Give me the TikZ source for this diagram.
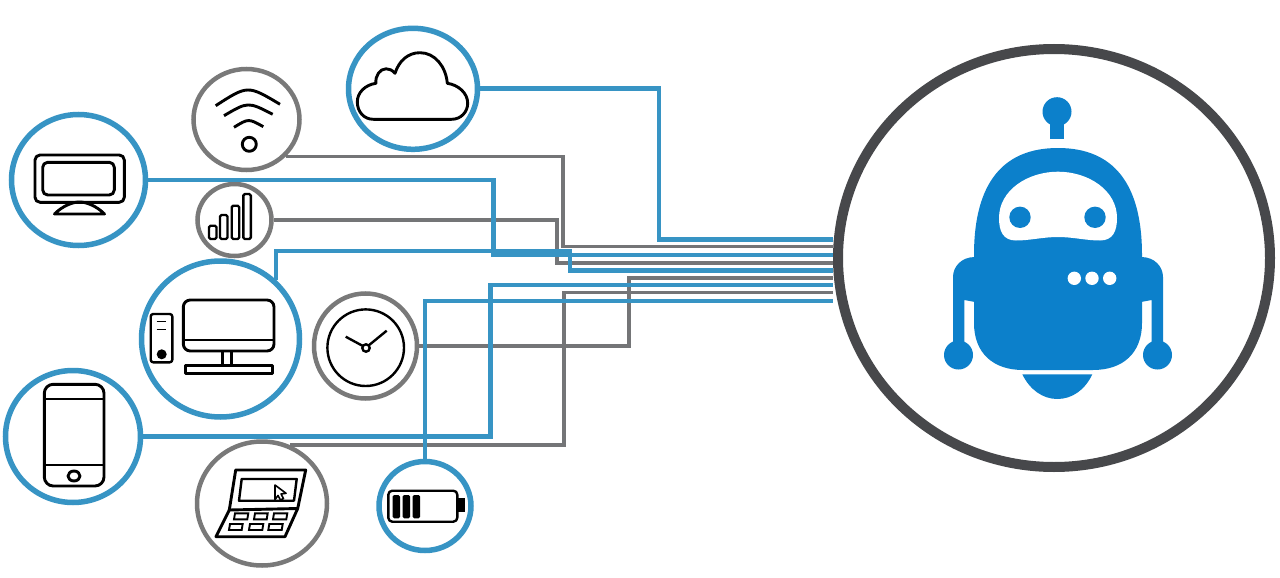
\documentclass[tikz,border=0pt]{standalone}
\usetikzlibrary{shapes.geometric}
\definecolor{wireblue}{HTML}{3794C4}
\definecolor{wiregray}{HTML}{747577}
\definecolor{robotblue}{HTML}{0C80CB}
\definecolor{robotring}{HTML}{47484B}
\begin{document}
\begin{tikzpicture}[x=1pt, y=-1pt,
	bluering/.style={shape=ellipse, draw=wireblue, line width=5.5pt, inner sep=0pt},
	grayring/.style={shape=ellipse, draw=gray!95!black, line width=4.5pt, inner sep=0pt},
	bluewire/.style={draw=wireblue, line width=4.6pt},
	graywire/.style={draw=wiregray, line width=3.6pt},
	icon/.style={black, line width=2.9pt, line join=round},
	thinicon/.style={black, line width=2.4pt, line join=round}]
	\useasboundingbox (0,0) rectangle (1280,578);
	\fill[white] (0,0) rectangle (1280,578);

	% ==================== 第一列：设备图标 ====================

	% 1. 云
	\begin{scope}[shift={(413,88.8)}]
		\node[bluering, minimum width=129pt, minimum height=121pt] (cloud) at (0,0) {};
		\draw[icon] (-39.7,30.5) -- (38.7,30.5) .. controls (48,30.5) and (54.7,23) .. (54.7,14.5)
			.. controls (54.7,4) and (45,-4) .. (34.3,-5.5) .. controls (33,-22) and (22,-36.1) .. (7,-36.1)
			.. controls (-5,-36.1) and (-14,-28) .. (-18,-15.5) .. controls (-21,-19) and (-24,-20) .. (-27,-20)
			.. controls (-33,-20) and (-38,-13) .. (-37,-5.5) .. controls (-48,-4) and (-55.7,4) .. (-55.7,13)
			.. controls (-55.7,23) and (-49,30.5) .. (-39.7,30.5) -- cycle;
	\end{scope}

	% 2. 无线网络
	\begin{scope}[shift={(246.5,119.5)}]
		\node[grayring, minimum width=106pt, minimum height=101pt] (wifi) at (0,0) {};
		\draw[icon] (-30.8,-13.8) .. controls (1.2,-34.5) .. (33.5,-15.2);
		\draw[icon] (-22.5,-3.8) .. controls (1.5,-17.9) .. (26.2,-5.2);
		\draw[icon] (-12.5,7.8) .. controls (2,-1.1) .. (16.8,7.2);
		\draw[icon] (2.8,24.8) circle (7);
	\end{scope}

	% 3. 显示器
	\begin{scope}[shift={(78.5,180)}]
		\node[bluering, minimum width=134pt, minimum height=131pt] (monitor) at (0,0) {};
		\draw[icon, rounded corners=5pt] (-43.5,-25) rectangle (45.8,22.3);
		\draw[icon, rounded corners=5pt] (-35.8,-17.7) rectangle (35.8,15);
		\draw[icon] (-24,34) -- (26,34) .. controls (18,26) and (8,22) .. (1,22)
			.. controls (-6,22) and (-16,26) .. (-24,34) -- cycle;
	\end{scope}

	% 4. 信号
	\begin{scope}[shift={(234.5,220)}]
		\node[grayring, minimum width=74pt, minimum height=72pt] (signal) at (0,0) {};
		\foreach \x/\t in {-25.5/5.7, -14.5/-5, -2.8/-14.3, 8.8/-26}
			\draw[thinicon, rounded corners=1.5pt] (\x,\t) rectangle (\x+7.5,19);
	\end{scope}

	% 5. 台式机
	\begin{scope}[shift={(220.5,339)}]
		\node[bluering, minimum width=158pt, minimum height=156pt] (desktop) at (0,0) {};
		\draw[icon, rounded corners=7pt] (-37.2,-39) rectangle (53.5,12);
		\draw[icon] (-37.2,1) -- (53.5,1);
		\draw[icon] (2.2,12) -- (2.2,26.7);
		\draw[icon] (11.2,12) -- (11.2,26.7);
		\draw[icon] (-34.8,26.7) rectangle (51.8,34.7);
		\draw[thinicon, rounded corners=2.5pt] (-69.8,-25) rectangle (-48.2,23.3);
		\draw[thinicon, line width=1.5pt] (-63.8,-17.3) -- (-54.5,-17.3);
		\draw[thinicon, line width=1.5pt] (-63.8,-9.7) -- (-54.5,-9.7);
		\fill[black] (-58.8,15.3) circle (5);
	\end{scope}

	% 6. 时钟
	\begin{scope}[shift={(365.5,346)}]
		\node[grayring, minimum width=103pt, minimum height=105pt] (clock) at (0,0) {};
		\draw[thinicon] (0.2,1.7) circle (38.3);
		\draw[thinicon] (0.5,2) circle (3.7);
		\draw[thinicon] (-2.6,0) -- (-19.8,-9.3);
		\draw[thinicon] (3.2,-0.6) -- (21.2,-15.3);
	\end{scope}

	% 7. 手机
	\begin{scope}[shift={(73,436.5)}]
		\node[bluering, minimum width=135pt, minimum height=132pt] (phone) at (0,0) {};
		\draw[icon, rounded corners=9pt] (-28.7,-52.2) rectangle (31,49.5);
		\draw[icon] (-28.7,-37.5) -- (31,-37.5);
		\draw[icon] (-28.7,28.5) -- (31,28.5);
		\draw[icon] (1,39.5) ellipse (6 and 5);
	\end{scope}

	% 8. 笔记本
	\begin{scope}[shift={(262,503.5)}]
		\node[grayring, minimum width=130pt, minimum height=124pt] (laptop) at (0,0) {};
		\draw[icon] (-32.7,6.5) -- (-26.3,-33.5) -- (43.7,-33.5) -- (35.7,5) -- cycle;
		\draw[thinicon] (-20.3,-24.5) -- (34.7,-24.5) -- (32,-2.8) -- (-23,-2.8) -- cycle;
		\draw[icon] (-32.7,6.5) -- (-46,33.2) -- (23,33.2) -- (35.7,5);
		\foreach \x/\w in {-27/13.3, -7/12.7, 12/13.3}
			\draw[black, line width=1.9pt] (\x,9.8) -- (\x+\w,9.8) -- (\x+\w-1,15.8) -- (\x-1,15.8) -- cycle;
		\foreach \x/\w in {-32/12.7, -12/13.3, 7.3/13.4}
			\draw[black, line width=1.9pt] (\x,20.5) -- (\x+\w,20.5) -- (\x+\w-1,26.5) -- (\x-1,26.5) -- cycle;
		\draw[black, line width=1.6pt, line join=round] (13,-18.5) -- (24,-10.2) -- (19,-9.5) -- (21.5,-5) -- (18.5,-3.5) -- (16,-8) -- (13,-4) -- cycle;
	\end{scope}

	% 9. 电池
	\begin{scope}[shift={(425,506)}]
		\node[bluering, minimum width=92pt, minimum height=89pt] (battery) at (0,0) {};
		\draw[thinicon, rounded corners=4pt] (-36.7,-15.3) rectangle (32.3,15.7);
		\fill[black] (32.3,-7.7) rectangle (40,6.3);
		\foreach \x in {-32.3,-22.3,-12.3}
			\fill[black, rounded corners=1.5pt] (\x,-11) rectangle (\x+7.3,12.3);
	\end{scope}

	% ==================== 第二列：机器人 ====================
	\begin{scope}[shift={(1058,258)}]
		\node[shape=ellipse, draw=robotring, line width=10pt, inner sep=0pt, minimum width=432pt, minimum height=418pt] (robot) at (-4,0) {};
		% 天线
		\fill[robotblue] (-1,-146.3) circle (14.5);
		\fill[robotblue] (-8,-137) rectangle (5.7,-119);
		% 身体
		\fill[robotblue] (-84,65) -- (-84,-3) .. controls (-84,-75) and (-55,-110) .. (0,-110)
			.. controls (55,-110) and (84,-75) .. (84,-3) -- (84,65)
			.. controls (84,95) and (65,112) .. (35,112) -- (-35,112)
			.. controls (-65,112) and (-84,95) .. (-84,65) -- cycle;
		% 手臂
		\foreach \s in {-1,1} {
			\begin{scope}[xscale=\s]
				\fill[robotblue] (83,-1) .. controls (97,-1) and (105,9) .. (105,19) -- (105,90)
					-- (93.7,90) -- (93.7,42) -- (83,44) -- cycle;
				\fill[robotblue] (99.5,97) circle (14.5);
			\end{scope}
		}
		% 脸
		\fill[white] (-59,-40) .. controls (-59,-68) and (-30,-86.3) .. (0,-86.3)
			.. controls (30,-86.3) and (59,-68) .. (59,-40) .. controls (59,-27) and (55,-17.5) .. (42,-17.5)
			.. controls (28,-17.5) and (15,-21) .. (0,-21) .. controls (-15,-21) and (-28,-17.5) .. (-42,-17.5)
			.. controls (-55,-17.5) and (-59,-27) .. (-59,-40) -- cycle;
		\fill[robotblue] (-38,-40.7) circle (10.7);
		\fill[robotblue] (37,-40.7) circle (10.7);
		\foreach \x in {16.3,34,51.7}
			\fill[white] (\x,20.3) circle (6.7);
		% 底座
		\fill[robotblue] (-35.7,116.3) .. controls (-28,132) and (-15,141) .. (-0.7,141)
			.. controls (14,141) and (27,132) .. (34.3,116.3) -- cycle;
	\end{scope}

	% ==================== 连线 ====================
	\foreach \n/\y in {cloud/239.3, wifi/246.5, monitor/255, signal/263, desktop/270.5, clock/278, phone/284.8, laptop/292.5, battery/301}
		\coordinate (\n-in) at (robot.west |- 0,\y);

	\draw[graywire] (wifi.-43) -| (562.7,246.5) -- (wifi-in);
	\draw[graywire] (signal.east) -| (556.7,263) -- (signal-in);
	\draw[graywire] (clock.east) -| (629,278) -- (clock-in);
	\draw[graywire] (laptop.64) -| (564,292.5) -- (laptop-in);

	\draw[bluewire] (cloud.east) -| (659,239.3) -- (cloud-in);
	\draw[bluewire] (monitor.east) -| (493.3,255) -- (monitor-in);
	\draw[bluewire] (desktop.47) |- (570,251) |- (desktop-in);
	\draw[bluewire] (phone.east) -| (490.7,284.8) -- (phone-in);
	\draw[bluewire] (battery.north) |- (battery-in);
\end{tikzpicture}
\end{document}
